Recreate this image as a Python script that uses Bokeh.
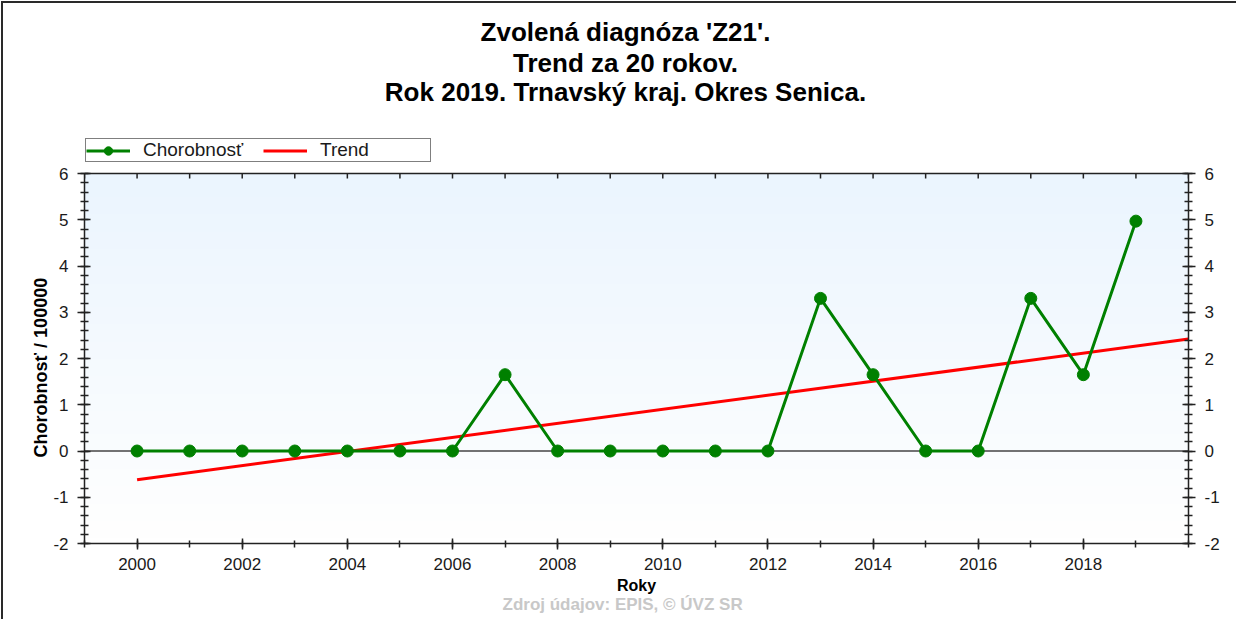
import math
import numpy as np
from bokeh.plotting import figure
from bokeh.models import (Range1d, LinearAxis, FixedTicker, Span, Title, Label,
                          Legend, LegendItem)
from bokeh.embed import file_html
from bokeh.resources import INLINE

# ---------------- data ----------------
title_lines = ["Zvolená diagnóza 'Z21'.",
               "Trend za 20 rokov.",
               "Rok 2019. Trnavský kraj. Okres Senica."]
source_text = "Zdroj údajov: EPIS, © ÚVZ SR"
x_label = "Roky"
y_label = "Chorobnosť / 100000"

years = [2000, 2001, 2002, 2003, 2004, 2005, 2006, 2007, 2008, 2009,
         2010, 2011, 2012, 2013, 2014, 2015, 2016, 2017, 2018, 2019]
chorobnost = [0, 0, 0, 0, 0, 0, 0, 1.65, 0, 0,
              0, 0, 0, 3.3, 1.65, 0, 0, 3.3, 1.65, 4.97]

trend_years = [2000, 2020]
trend_values = [-0.62, 2.42]

x_ticks = [2000, 2002, 2004, 2006, 2008, 2010, 2012, 2014, 2016, 2018]
x_minor = [1999, 2000, 2001, 2002, 2003, 2004, 2005, 2006, 2007, 2008, 2009,
           2010, 2011, 2012, 2013, 2014, 2015, 2016, 2017, 2018, 2019, 2020]
y_ticks = [-2, -1, 0, 1, 2, 3, 4, 5, 6]
y_tick_labels = {-2: "-2", -1: "-1"}
y_minor = [round(-2 + 0.2 * k, 1) for k in range(41)]
Y_MIN, Y_MAX = -2, 6
X_MIN, X_MAX = 1999, 2020

FONT = "Liberation Sans"
INK = "#1a1a1a"

# ---------------- layout (pixels on the canvas) ----------------
FRAME_TOP_PX = 0        # frame reaches the canvas top; the data box starts lower
FRAME_BOTTOM_PX = 543
BOX_TOP_PX = 173        # where y = 6 lies
px_per_unit = (FRAME_BOTTOM_PX - BOX_TOP_PX) / (Y_MAX - Y_MIN)
y_view_top = Y_MIN + (FRAME_BOTTOM_PX - FRAME_TOP_PX) / px_per_unit

p = figure(width=1236, height=619, output_backend="svg", toolbar_location=None,
           title=None,
           x_range=Range1d(X_MIN, X_MAX), y_range=Range1d(Y_MIN, y_view_top),
           x_axis_type=None, y_axis_type=None,
           min_border_left=84, min_border_right=48,
           min_border_top=FRAME_TOP_PX, min_border_bottom=619 - FRAME_BOTTOM_PX)
p.xgrid.visible = False
p.ygrid.visible = False
p.outline_line_color = None
p.border_fill_color = None
p.background_fill_color = None
p.styles = {"box-shadow": "inset 1px 1px 0 0 #ffffff, inset 3px 3px 0 0 #2a2a2a"}

# background gradient in the data box
n = 64
top = np.array([235, 245, 254], dtype=float)
bot = np.array([255, 255, 255], dtype=float)
t = np.linspace(0, 1, n)[:, None]
cols = bot + (top - bot) * t
img = np.empty((n, 1), dtype=np.uint32)
view = img.view(dtype=np.uint8).reshape((n, 1, 4))
view[:, 0, 0] = cols[:, 0]
view[:, 0, 1] = cols[:, 1]
view[:, 0, 2] = cols[:, 2]
view[:, 0, 3] = 255
p.image_rgba(image=[img], x=X_MIN, y=Y_MIN, dw=X_MAX - X_MIN, dh=Y_MAX - Y_MIN,
             level="image")

p.add_layout(Span(location=0, dimension="width", line_color="#444444",
                  line_width=1.5, level="underlay"))
# top edge of the data box with inward ticks
p.add_layout(Span(location=Y_MAX, dimension="width", line_color="#222222",
                  line_width=1.5))
p.ray(x=x_minor, y=[Y_MAX] * len(x_minor), length=5, length_units="screen",
      angle=-math.pi / 2, line_color="#222222", line_width=1.5)

axis_common = dict(axis_line_color="#222222", axis_line_width=1.5,
                   major_tick_line_color="#222222", major_tick_line_width=1.5,
                   minor_tick_line_color="#222222", minor_tick_line_width=1.5,
                   major_label_text_font=FONT, major_label_text_font_size="17px",
                   major_label_text_color=INK)

xb = LinearAxis(ticker=FixedTicker(ticks=x_ticks, minor_ticks=x_minor),
                axis_label=x_label, axis_label_text_font=FONT,
                axis_label_text_font_size="16px", axis_label_text_font_style="bold",
                axis_label_text_color="#000000",
                axis_label_standoff=4, major_label_standoff=8,
                major_tick_in=5, major_tick_out=6, minor_tick_in=3, minor_tick_out=4,
                **axis_common)
p.add_layout(xb, "below")

yl = LinearAxis(ticker=FixedTicker(ticks=y_ticks, minor_ticks=y_minor),
                bounds=(Y_MIN, Y_MAX),
                major_label_overrides=y_tick_labels, major_label_standoff=9,
                major_tick_in=6, major_tick_out=7, minor_tick_in=4, minor_tick_out=4,
                **axis_common)
p.add_layout(yl, "left")

yr = LinearAxis(ticker=FixedTicker(ticks=y_ticks, minor_ticks=y_minor),
                bounds=(Y_MIN, Y_MAX),
                major_label_overrides=y_tick_labels, major_label_standoff=9,
                major_tick_in=6, major_tick_out=7, minor_tick_in=4, minor_tick_out=4,
                **axis_common)
p.add_layout(yr, "right")

# y axis title: starts 86 px above the frame bottom (offset acts as margin)
p.add_layout(Title(text=y_label, align="left", offset=86, standoff=0,
                   text_font=FONT, text_font_size="18px", text_font_style="bold",
                   text_color="#000000"), "left")

# data
tr = p.line(trend_years, trend_values, line_color="#ff0000", line_width=3)
gl = p.line(years, chorobnost, line_color="#008000", line_width=3)
gs = p.scatter(years, chorobnost, marker="circle", size=12,
               fill_color="#008000", line_color="#008000")

legend = Legend(items=[LegendItem(label="Chorobnosť", renderers=[gl, gs]),
                       LegendItem(label="Trend", renderers=[tr])],
                orientation="horizontal",
                location=(1, FRAME_BOTTOM_PX - 162),
                label_text_font=FONT, label_text_font_size="19px",
                label_text_color=INK,
                glyph_width=44, glyph_height=21, label_standoff=13, spacing=10,
                padding=0, margin=0, label_width=110, label_height=21,
                border_line_color="black", border_line_width=1.2,
                background_fill_color="white", background_fill_alpha=1.0)
p.add_layout(legend)

title_baselines_px = [31, 62, 91]
for txt, by in zip(title_lines, title_baselines_px):
    p.add_layout(Label(x=625 - 84, y=FRAME_BOTTOM_PX - by,
                       x_units="screen", y_units="screen", text=txt,
                       text_align="center", text_baseline="alphabetic",
                       text_font=FONT, text_font_size="26px",
                       text_font_style="bold", text_color="#000000"))

p.add_layout(Title(text=source_text, align="left", offset=418, standoff=-4,
                   vertical_align="top",
                   text_font=FONT, text_font_size="17px", text_font_style="bold",
                   text_color="#c8c8c8"), "below")

open("out.html", "w").write(file_html(p, INLINE))
